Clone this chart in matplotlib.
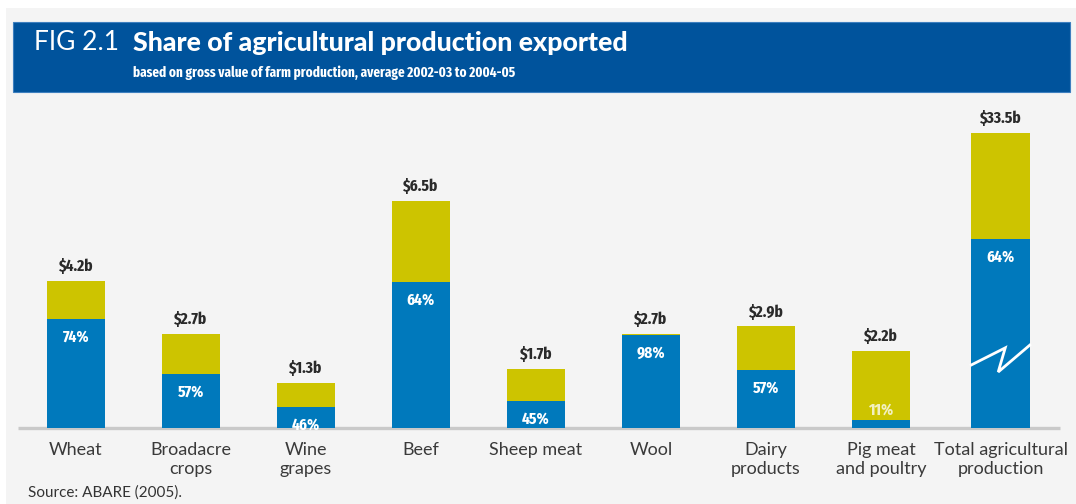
import numpy as np
import matplotlib.pyplot as plt
from matplotlib.patches import Rectangle

# gross value of farm production, $ billion, and share exported (%)
categories = ["Wheat", "Broadacre\ncrops", "Wine\ngrapes", "Beef", "Sheep meat",
              "Wool", "Dairy\nproducts", "Pig meat\nand poultry",
              "Total agricultural\nproduction"]
value_labels = ["$4.2b", "$2.7b", "$1.3b", "$6.5b", "$1.7b", "$2.7b", "$2.9b",
                "$2.2b", "$33.5b"]
values = [4.2, 2.7, 1.3, 6.5, 1.7, 2.7, 2.9, 2.2, 33.5]
export_share = [74, 57, 46, 64, 45, 98, 57, 11, 64]

# the total bar is shown with a broken axis, at this drawn height
total_drawn = 8.43

BLUE = "#0079bc"
YELLOW = "#cdc400"
BAND = "#00539c"
BG = "#f4f4f4"

plain = ["Lato", "DejaVu Sans"]
narrow = ["Fira Sans Condensed", "PT Sans Narrow", "Roboto Condensed", "DejaVu Sans"]
xnarrow = ["Fira Sans Extra Condensed"] + narrow

W, H = 1076, 504
fig = plt.figure(figsize=(W / 100, H / 100), dpi=100, facecolor="white")

# panel background and title band
fig.patches.append(Rectangle((6 / W, 0), 1 - 6 / W, 1 - 8 / H, transform=fig.transFigure,
                             facecolor=BG, edgecolor="none", zorder=-2))
fig.patches.append(Rectangle((13 / W, 1 - 92 / H), (1070 - 13) / W, 70 / H,
                             transform=fig.transFigure, facecolor=BAND,
                             edgecolor="#3d7fbf", lw=0.8, zorder=-1))

fig.text(34 / W, 1 - 43 / H, "FIG 2.1", color="white", fontsize=19,
         family=plain, va="center")
fig.text(133 / W, 1 - 43 / H, "Share of agricultural production exported",
         color="white", fontsize=19.3, family=plain, fontweight="black", va="center")
fig.text(133 / W, 1 - 73 / H,
         "based on gross value of farm production, average 2002-03 to 2004-05",
         color="white", fontsize=10.3, family=xnarrow, fontweight="bold", va="center")

ax = fig.add_axes([18 / W, 76 / H, 1042 / W, 315 / H])
ax.set_zorder(2)
ax.set_facecolor("none")
ax.set_xlim(-0.504, 8.557)
ax.set_ylim(0, 9)
ax.axis("off")

x = np.arange(len(categories)).astype(float)
x[-1] += 0.04
width = 0.51

heights = np.array(values, dtype=float)
heights[-1] = total_drawn
share = np.array(export_share) / 100.0
blue_h = heights * share

ax.bar(x, blue_h, width, color=BLUE, zorder=3)
ax.bar(x, heights - blue_h, width, bottom=blue_h, color=YELLOW, zorder=3)

# baseline
ax.plot([-0.504, 8.557], [0, 0], color="#c9c9c9", lw=2.4, zorder=2,
        solid_capstyle="butt", clip_on=False)

for xi, h, bh, lab, pct in zip(x, heights, blue_h, value_labels, export_share):
    ax.text(xi, h + 0.18, lab, ha="center", va="bottom", fontsize=12,
            family=xnarrow, fontweight="bold", color="#2a2a2a", zorder=4)
    if pct < 20:
        ax.text(xi, bh + 0.04, f"{pct}%", ha="center", va="bottom", fontsize=12,
                family=xnarrow, fontweight="bold", color="#f2f0c0", zorder=4)
    else:
        ax.text(xi, bh - 0.5, f"{pct}%", ha="center", va="center", fontsize=12,
                family=xnarrow, fontweight="bold", color="white", zorder=4)

for xi, lab in zip(x, categories):
    ax.text(xi, -0.4, lab, ha="center", va="top", fontsize=13,
            family=plain, color="#3a3a3a", linespacing=1.25, zorder=4)

# break mark on the total bar
xt = x[-1]
zx = xt - width / 2 + width * np.array([0.0, 0.58, 0.46, 1.0])
zy = np.array([1.8, 2.29, 1.6, 2.37])
ax.plot(zx, zy, color="white", lw=2.0, zorder=5, solid_joinstyle="miter")

fig.text(28 / W, 1 - 493 / H, "Source: ABARE (2005).", fontsize=11,
         family=plain, color="#333333", va="center")

fig.savefig("out.png", dpi=100, facecolor=fig.get_facecolor())
